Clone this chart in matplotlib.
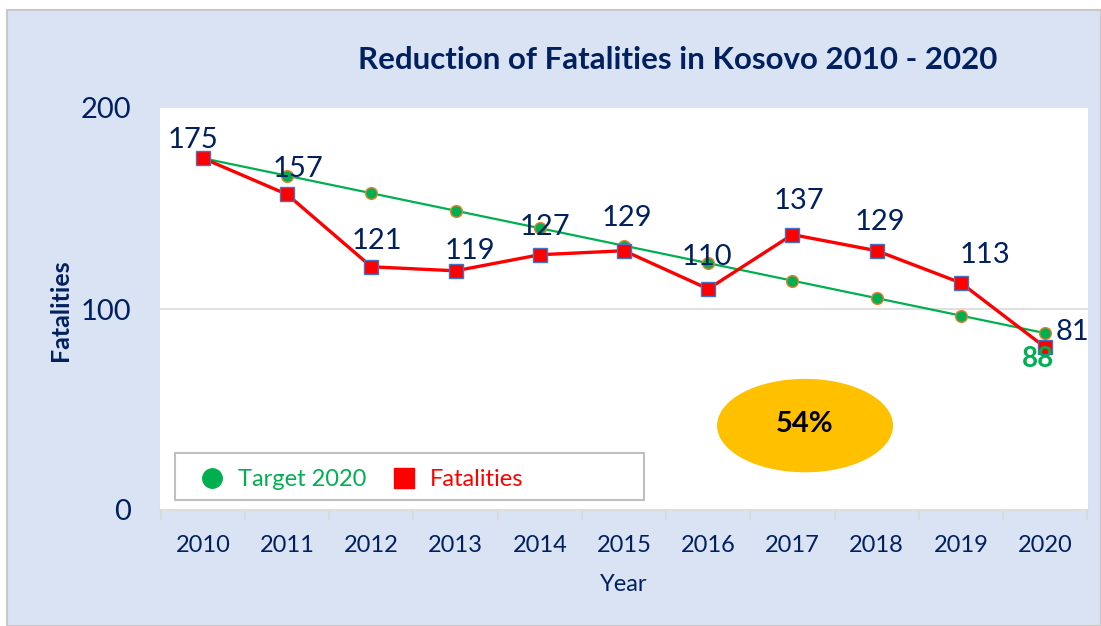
import matplotlib.pyplot as plt
from matplotlib.patches import Ellipse, Rectangle

plt.rcParams["font.family"] = ["Lato", "DejaVu Sans"]

years = ["2010", "2011", "2012", "2013", "2014", "2015",
         "2016", "2017", "2018", "2019", "2020"]
target = [175, 166.3, 157.6, 148.9, 140.2, 131.5, 122.8, 114.1, 105.4, 96.7, 88]
fatalities = [175, 157, 121, 119, 127, 129, 110, 137, 129, 113, 81]
reduction_text = "54%"

NAVY = "#002060"
BG = "#dae3f3"

W, H = 1101, 626
fig = plt.figure(figsize=(W / 100, H / 100), dpi=100, facecolor="white")
fig.patches.append(Rectangle((7 / W, 0), 1 - 7 / W, 1 - 10 / H,
                             transform=fig.transFigure, facecolor=BG,
                             edgecolor="#c8c8c8", lw=1.5, zorder=-10))

ax = fig.add_axes([160 / W, 1 - 510 / H, (1088 - 160) / W, (510 - 108) / H])
ax.set_facecolor("white")

x = list(range(len(years)))
ax.plot(x, target, color="#00b050", lw=1.6, marker="o", ms=8.5,
        mfc="#00b050", mec="#ed7d31", mew=1.0, zorder=3, label="Target 2020")
ax.plot(x, fatalities, color="#ff0000", lw=2.4, marker="s", ms=10,
        mfc="#ff0000", mec="#4472c4", mew=1.0, zorder=4, label="Fatalities")

# label offsets in pixels (dx, dy up)
offsets = [(-10, 18), (11, 25), (6, 26), (14, 20), (5, 28), (3, 33),
           (-1, 32), (7, 34), (3, 29), (24, 28), (27, 15)]
for i, v in enumerate(fatalities):
    dx, dy = offsets[i]
    ax.annotate(str(v), (i, v), xytext=(dx * 0.72, dy * 0.72),
                textcoords="offset points", ha="center", va="center",
                fontsize=21, color=NAVY, zorder=6)

ax.annotate(str(int(target[-1])), (len(years) - 1, target[-1]),
            xytext=(-7 * 0.72, -26 * 0.72), textcoords="offset points",
            ha="center", va="center", fontsize=20, fontweight="bold",
            color="#00b050", zorder=6)

ax.add_patch(Ellipse((7.15, 42.0), 2.09, 46.5, facecolor="#ffc000",
                     edgecolor="none", zorder=2))
ax.text(7.15, 43, reduction_text, ha="center", va="center", fontsize=21,
        fontweight="bold", color="black", zorder=3)

ax.set_xlim(-0.51, len(years) - 0.49)
ax.set_ylim(0, 200)
ax.set_yticks([0, 100, 200])
ax.set_yticklabels(["0", "100", "200"], fontsize=21, color=NAVY)
ax.tick_params(axis="y", length=0, pad=21)
ax.axhline(100, color="#d9d9d9", lw=1.2, zorder=1)

ax.set_xticks(x)
ax.set_xticklabels(years, fontsize=17, color=NAVY)
ax.set_xticks([i + 0.5 for i in range(-1, len(years))], minor=True)
ax.tick_params(axis="x", which="major", length=0, pad=18)
ax.tick_params(axis="x", which="minor", length=7, color="#d9d9d9", width=1.2)

for s in ["top", "right", "left"]:
    ax.spines[s].set_visible(False)
ax.spines["bottom"].set_color("#d9d9d9")
ax.spines["bottom"].set_linewidth(1.2)

ax.set_xlabel("Year", fontsize=17, color=NAVY, labelpad=13)
fig.text(60 / W, 1 - 310 / H, "Fatalities", rotation=90, ha="center",
         va="center", fontsize=18, fontweight="bold", color=NAVY)

fig.text(678 / W, 1 - 60 / H, "Reduction of Fatalities in Kosovo 2010 - 2020",
         ha="center", va="center", fontsize=22.5, fontweight="bold", color=NAVY)

# legend frame drawn separately so the entries stay packed to the left
ax.add_patch(Rectangle((15 / 928, 10 / 402), 469 / 928, 47 / 402,
                       transform=ax.transAxes, facecolor="white",
                       edgecolor="#bfbfbf", lw=1.5, zorder=7))
leg = ax.legend(loc="center left", bbox_to_anchor=(40 / 928, 30 / 402),
                ncol=2, fontsize=17, frameon=False, handlelength=1.0,
                handletextpad=0.6, columnspacing=1.1, borderpad=0,
                borderaxespad=0)
leg.set_zorder(8)
for h in leg.legend_handles:
    h.set_linestyle("none")
    h.set_markeredgecolor(h.get_markerfacecolor())
    h.set_markersize(14)
for t, c in zip(leg.get_texts(), ["#00b050", "#ff0000"]):
    t.set_color(c)

fig.savefig("out.png", dpi=100, facecolor=fig.get_facecolor())
